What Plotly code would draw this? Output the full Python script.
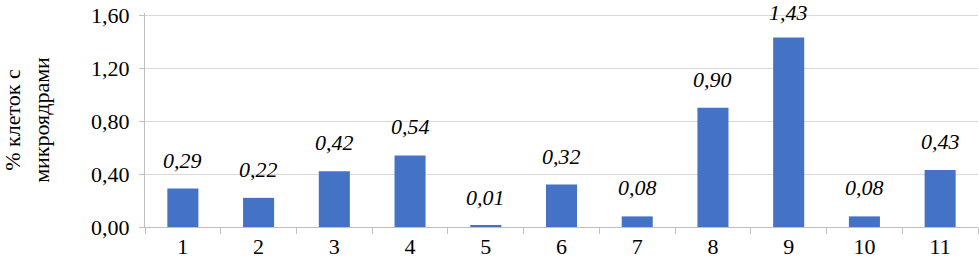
import plotly.graph_objects as go

categories = ["1", "2", "3", "4", "5", "6", "7", "8", "9", "10", "11"]
values = [0.29, 0.22, 0.42, 0.54, 0.01, 0.32, 0.08, 0.90, 1.43, 0.08, 0.43]
y_max = 1.6
y_step = 0.4
y_title = "% клеток с<br>микроядрами"

FONT = "Liberation Serif"
H, T, B = 260, 13, 33
plot_h = H - T - B
head_px = 2.0
y_top = y_max * (1 + head_px / (plot_h - head_px))

fig = go.Figure()
fig.add_trace(go.Bar(x=categories, y=values, marker=dict(color="#4472C4", line=dict(width=0)),
                     width=0.41, showlegend=False))

for i, v in enumerate(values):
    bar_top_px = T + (y_top - v) / y_top * plot_h
    shift = max(4, min(14, bar_top_px - 27))
    fig.add_annotation(x=i, y=v, xref="x", yref="y", text=f"<i>{v:.2f}</i>".replace(".", ","),
                       showarrow=False, yanchor="bottom", yshift=shift,
                       font=dict(family=FONT, size=22, color="#000"))

fig.update_layout(
    width=979, height=H,
    margin=dict(l=145, r=1, t=T, b=B),
    plot_bgcolor="white", paper_bgcolor="white",
    separators=", ",
    font=dict(family=FONT, size=22, color="#000"),
    bargap=0.59,
)
fig.update_xaxes(type="category", range=[-0.5, 10.5], showline=True, linecolor="#bfbfbf", linewidth=1,
                 ticks="outside", tickson="boundaries", ticklen=6, tickcolor="#bfbfbf",
                 tickfont=dict(family=FONT, size=22), showgrid=False)
fig.update_yaxes(range=[0, y_top], tickmode="linear", tick0=0, dtick=y_step, tickformat=".2f",
                 showline=True, linecolor="#bfbfbf", linewidth=1, ticks="outside", ticklen=5,
                 tickcolor="#bfbfbf", showgrid=True, gridcolor="#d9d9d9", gridwidth=1, zeroline=False,
                 tickfont=dict(family=FONT, size=22), ticklabelstandoff=5,
                 title=dict(text=y_title, font=dict(family=FONT, size=22), standoff=37))

fig.write_html("out.html", config={"displayModeBar": False},
               post_script="document.body.style.margin='0';document.body.style.overflow='hidden';")
